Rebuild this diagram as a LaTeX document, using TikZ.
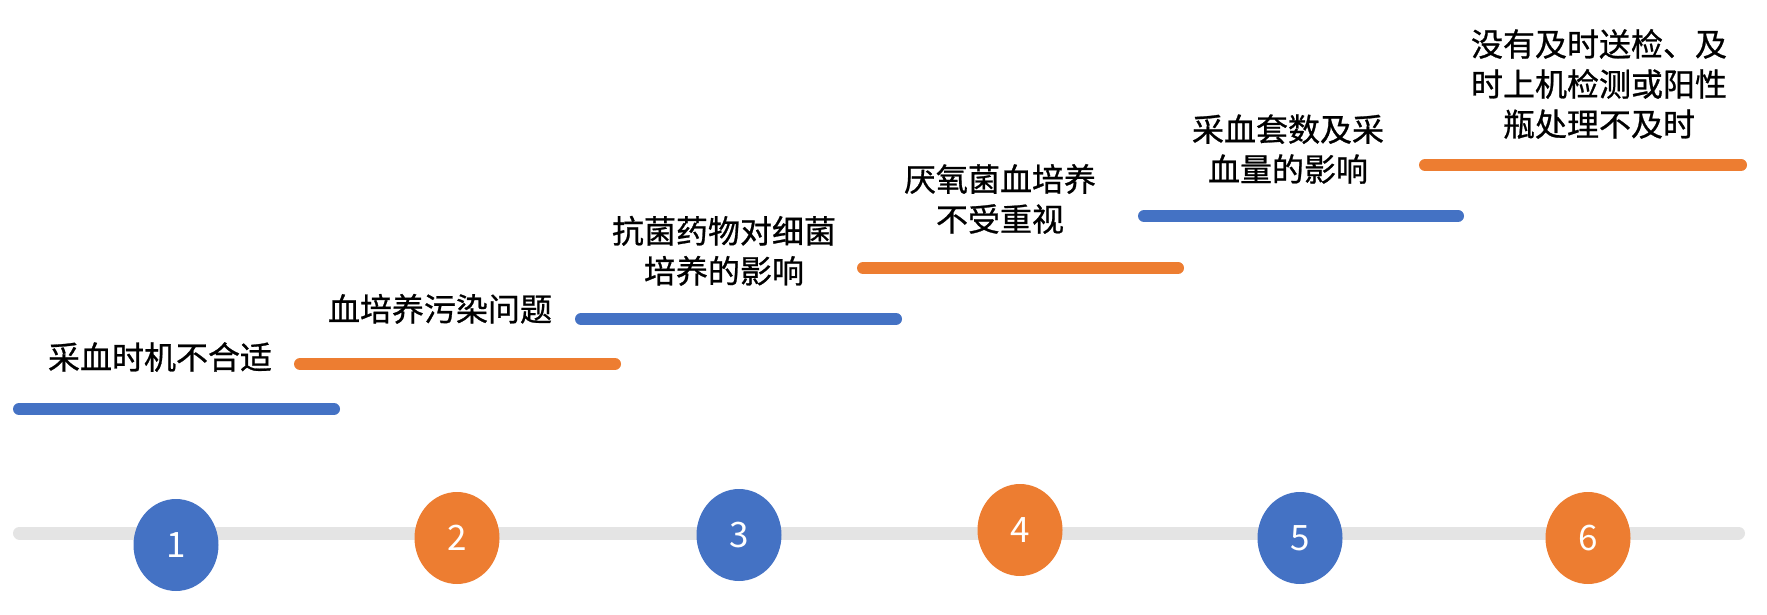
\documentclass[tikz,border=0pt]{standalone}
\usepackage{fontspec}
\usepackage{tikz}
\usetikzlibrary{shapes.geometric}
\newfontfamily\cjk{Noto Sans CJK SC}
\newfontfamily\cjkheavy[FakeBold=0.8]{Noto Sans CJK SC}
\definecolor{StageBlue}{RGB}{68,114,196}
\definecolor{StageOrange}{RGB}{237,125,49}
\definecolor{AxisGray}{RGB}{228,228,228}
\tikzset{
  axis line/.style={line width=13pt, AxisGray, line cap=round},
  stage bar/.style={line width=12pt, line cap=round},
  stage dot/.style={ellipse, minimum width=85pt, minimum height=92pt, inner sep=0pt, text=white, font=\cjk\fontsize{35}{35}\selectfont},
  stage text/.style={anchor=south, inner sep=0pt, align=center, font=\cjkheavy\fontsize{32}{40}\selectfont}
}

\begin{document}
\begin{tikzpicture}[x=1pt, y=1pt]
                \useasboundingbox (0,0) rectangle (1767,614);

                % Time axis
                \coordinate (axis start) at (19.5,81);
                \coordinate (axis end) at (1738.5,81);
                \draw[axis line] (axis start) -- (axis end);

                % Numbered stages on the axis
                \node[stage dot, fill=StageBlue] (n1) at (176,69) {1};
                \node[stage dot, fill=StageOrange] (n2) at (457,76) {2};
                \node[stage dot, fill=StageBlue] (n3) at (739,79) {3};
                \node[stage dot, fill=StageOrange] (n4) at (1020,84) {4};
                \node[stage dot, fill=StageBlue] (n5) at (1300,76) {5};
                \node[stage dot, fill=StageOrange] (n6) at (1588,76) {6};

                % Rising step bars
                \draw[stage bar, StageBlue] (19,205) -- ++(315,0);
                \draw[stage bar, StageOrange] (300,250) -- ++(315,0);
                \draw[stage bar, StageBlue] (581,295) -- ++(315,0);
                \draw[stage bar, StageOrange] (863,346) -- ++(315,0);
                \draw[stage bar, StageBlue] (1144,398) -- ++(314,0);
                \draw[stage bar, StageOrange] (1425,449) -- ++(316,0);

                % Stage labels
                \node[stage text] (t1) at (160,242) {采血时机不合适};
                \node[stage text] (t2) at (440,290) {血培养污染问题};
                \node[stage text] (t3) at (724,328) {抗菌药物对细菌\\培养的影响};
                \node[stage text] (t4) at (1000,380) {厌氧菌血培养\\不受重视};
                \node[stage text] (t5) at (1288,430) {采血套数及采\\血量的影响};
                \node[stage text] (t6) at (1599,475) {没有及时送检、及\\时上机检测或阳性\\瓶处理不及时};
\end{tikzpicture}
\end{document}
